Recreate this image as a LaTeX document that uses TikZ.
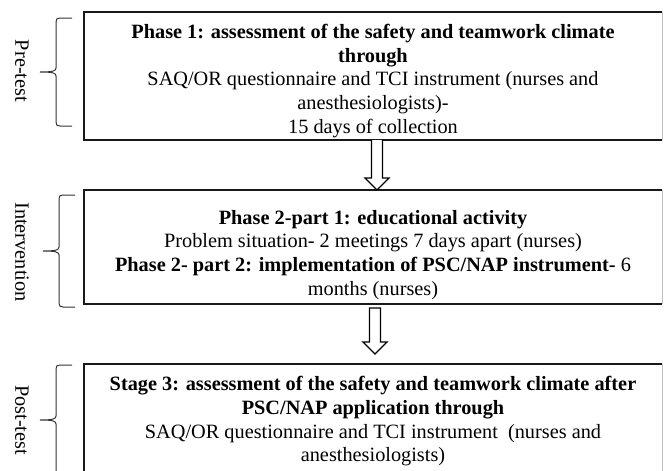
\documentclass[tikz,border=0pt]{standalone}
\usepackage{fontspec}
\setmainfont{Liberation Serif}
\usetikzlibrary{calc}
\begin{document}
\begin{tikzpicture}[x=1pt,y=-1pt,
  boxarea/.style={minimum width=578pt, inner sep=0pt, outer sep=0pt},
  boxline/.style={line width=1.7pt, black!90},
  edgeline/.style={line width=1pt, black!25},
  txt/.style={align=center, inner sep=0pt, font=\fontsize{20.3}{23.8}\selectfont},
  hollow/.style={line width=1.3pt, black, fill=white, line join=miter},
  bracel/.style={line width=1pt, black!80},
  side/.style={rotate=-90, anchor=center, inner sep=0pt, font=\fontsize{20.3}{24}\selectfont}]
\useasboundingbox (0,0) rectangle (664,471);
\clip (0,0) rectangle (664,471);
% boxes
\node[boxarea, minimum height=128pt] (b1) at (373,76) {};
\node[boxarea, minimum height=114pt] (b2) at (373,247) {};
\node[boxarea, minimum height=124pt] (b3) at (373,426) {};
\foreach \b in {b1,b2,b3}{
  \draw[boxline] (\b.north east) -- (\b.north west) -- (\b.south west) -- (\b.south east);
  \draw[edgeline] (\b.north east) -- (\b.south east);
}
% texts
\node[txt] (t1) at ($(b1.center)+(0,5)$) {\textbf{Phase 1: assessment of the safety and teamwork climate}\\
  \textbf{through}\\
  SAQ/OR questionnaire and TCI instrument (nurses and\\
  anesthesiologists)-\\
  15 days of collection};
\node[txt] (t2) at ($(b2.center)+(0,8)$) {\textbf{Phase 2-part 1: educational activity}\\
  Problem situation- 2 meetings 7 days apart (nurses)\\
  \textbf{Phase 2- part 2: implementation of PSC/NAP instrument-} 6\\
  months (nurses)};
\node[txt, anchor=north] (t3) at ($(b3.north)+(0,12)$) {\textbf{Stage 3: assessment of the safety and teamwork climate after}\\
  \textbf{PSC/NAP application through}\\
  SAQ/OR questionnaire and TCI instrument\ \ (nurses and\\
  anesthesiologists)};
% arrows
\coordinate (a1s) at ($(b1.south)+(4,0)$);
\coordinate (a1t) at ($(b2.north)+(4,0)$);
\draw[hollow] ($(a1s)+(-5.5,0)$) -- ($(a1t)+(-5.5,-12)$) -- ($(a1t)+(-12,-12)$) -- (a1t)
  -- ($(a1t)+(12,-12)$) -- ($(a1t)+(5.5,-12)$) -- ($(a1s)+(5.5,0)$);
\coordinate (a2s) at ($(b2.south)+(2,4)$);
\coordinate (a2t) at ($(b3.north)+(2,-10)$);
\draw[hollow] ($(a2s)+(-5.5,0)$) -- ($(a2t)+(-5.5,-12)$) -- ($(a2t)+(-12,-12)$) -- (a2t)
  -- ($(a2t)+(12,-12)$) -- ($(a2t)+(5.5,-12)$) -- ($(a2s)+(5.5,0)$) -- cycle;
% braces
\draw[bracel] (72,18) -- (60,18) .. controls (57,18) and (56,19) .. (56,22) -- (56,68)
  .. controls (56,71) and (53,72) .. (40,72) .. controls (53,72) and (56,73) .. (56,76)
  -- (56,122) .. controls (56,125) and (57,126) .. (60,126) -- (72,126);
\draw[bracel] (75,195) -- (63,195) .. controls (60,195) and (59,196) .. (59,199) -- (59,247)
  .. controls (59,250) and (56,251) .. (43,251) .. controls (56,251) and (59,252) .. (59,255)
  -- (59,303) .. controls (59,306) and (60,307) .. (63,307) -- (75,307);
\draw[bracel] (72,365) -- (60,365) .. controls (57,365) and (56,366) .. (56,369) -- (56,416)
  .. controls (56,419) and (53,420) .. (40,420) .. controls (53,420) and (56,421) .. (56,424)
  -- (56,471) .. controls (56,474) and (57,475) .. (60,475) -- (72,475);
% side labels
\node[side] (l1) at (22,71) {Pre-test};
\node[side] (l2) at (22,252) {Intervention};
\node[side] (l3) at (22,420) {Post-test};
\end{tikzpicture}
\end{document}
